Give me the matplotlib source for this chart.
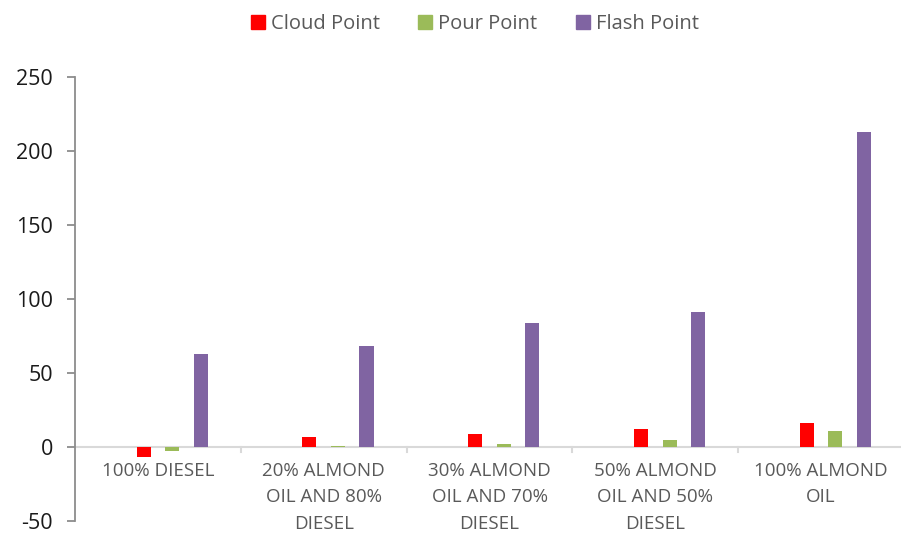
import matplotlib
matplotlib.use("Agg")
import matplotlib.pyplot as plt
from matplotlib.patches import Patch
import numpy as np

plt.rcParams['font.family'] = ['Open Sans', 'DejaVu Sans']
plt.rcParams['axes.unicode_minus'] = False

categories = ["100% DIESEL", "20% ALMOND\nOIL AND 80%\nDIESEL", "30% ALMOND\nOIL AND 70%\nDIESEL",
              "50% ALMOND\nOIL AND 50%\nDIESEL", "100% ALMOND\nOIL"]
cloud_point = [-6.5, 6.5, 9, 12, 16]
pour_point = [-2.5, 1, 2, 5, 11]
flash_point = [63, 68.5, 84, 91, 213]
series_names = ["Cloud Point", "Pour Point", "Flash Point"]
colors = ["#FF0000", "#9BBB59", "#8064A2"]
yticks = [-50, 0, 50, 100, 150, 200, 250]

fig = plt.figure(figsize=(9.01, 5.33), dpi=100)
ax = fig.add_axes([75/901, 1-521/533, (904-75)/901, (521-77)/533])

x = np.arange(len(categories)) + 0.5
step = 0.172
width = 0.085
for k, (vals, col) in enumerate(zip([cloud_point, pour_point, flash_point], colors)):
    off = (k - 0.5) * step
    ax.bar(x + off, vals, width=width, color=col, zorder=3)

ax.set_xlim(0, len(categories))
ax.set_ylim(-50, 250)
ax.set_yticks(yticks)
ax.set_xticks([])
for s in ["top", "right", "bottom"]:
    ax.spines[s].set_visible(False)
ax.spines["left"].set_color("#8C8C8C")
ax.spines["left"].set_linewidth(1.3)
ax.tick_params(axis="y", colors="#8C8C8C", width=1.3, length=6, labelsize=15.5,
               labelcolor="#1A1A1A", pad=10)

ax.axhline(0, color="#D9D9D9", lw=1.5, zorder=2)
for b in range(1, len(categories)):
    ax.plot([b, b], [0, -3.5], color="#D9D9D9", lw=1.5, clip_on=False, zorder=2)

for xi, lab in zip(x, categories):
    ax.text(xi, -10, lab, ha="center", va="top", fontsize=13.5, color="#595959",
            linespacing=1.6, multialignment="center")

handles = [Patch(color=c) for c in colors]
fig.legend(handles, series_names, loc="center", bbox_to_anchor=(0.527, 1-24/533), ncol=3,
           frameon=False, fontsize=14.5, labelcolor="#595959", handlelength=0.7, handleheight=0.7,
           handletextpad=0.3, columnspacing=1.9)

fig.savefig("out.png", dpi=100, facecolor="white")
